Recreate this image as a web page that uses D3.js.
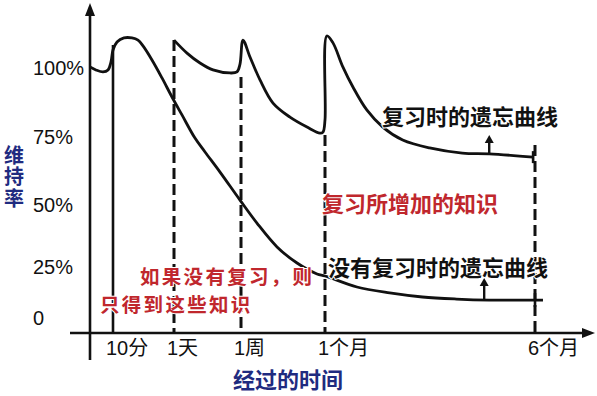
<!DOCTYPE html>
<html><head><meta charset="utf-8">
<script src="https://cdn.jsdelivr.net/npm/d3@7/dist/d3.min.js"></script>
<style>body{margin:0;background:#fff}svg{display:block;background:#fff}</style>
</head><body><svg id="c" width="597" height="396"></svg>
<script>
// ---- data ----
const timeLabels = ["10分", "1天", "1周", "1个月", "6个月"];
const timeIndex = [0, 1, 2, 3, 4];
const retentionTicks = [0, 25, 50, 75, 100];
const retentionLabels = ["0", "25%", "50%", "75%", "100%"];

// forgetting curve without review (time index, retention %)
const noReviewT = [-0.377, -0.279, -0.164, -0.082, -0.033, 0, 0.066, 0.18, 0.311, 0.41, 0.492, 0.639, 0.803, 0.967, 1.119, 1.313, 1.463, 1.687, 1.985, 2.19, 2.429, 2.667, 2.905, 3, 3.152, 3.308, 3.464, 3.626, 3.782, 4.038];
const noReviewV = [100.4, 99.3, 98.6, 99.3, 102.2, 106.5, 109.4, 110.9, 110.9, 110.1, 108.0, 102.9, 96.4, 89.5, 83.0, 74.6, 69.5, 62.1, 51.8, 42.7, 33.1, 26.6, 21.6, 20.6, 15.2, 12.3, 10.3, 9.3, 8.8, 8.8];

// forgetting curve with reviews
const reviewT = [1, 1.194, 1.388, 1.582, 1.836, 1.94, 1.985, 2.024, 2.107, 2.226, 2.381, 2.583, 2.786, 2.94, 2.976, 3, 3.009, 3.038, 3.085, 3.133, 3.199, 3.275, 3.37, 3.498, 3.654, 3.782, 3.991];
const reviewV = [110.1, 105.4, 101.8, 99.3, 98.2, 98.6, 101.4, 110.1, 104.0, 95.7, 87.3, 82.2, 78.6, 76.4, 76.8, 81.2, 111.6, 109.1, 100.4, 93.1, 84.8, 78.6, 73.9, 71.0, 69.1, 68.8, 67.6];

// top of each vertical guide line (retention %)
const guideTop = [108.3, 110.1, 96.7, 75.7, 72.1];

// ---- chart ----
const svg = d3.select("#c");
const x = d3.scaleLinear().domain(timeIndex).range([113, 174, 241, 325, 535]);
const y = d3.scaleLinear().domain(retentionTicks).range([318, 267, 205, 137, 68]);
const axisY = 333, axisX = 90;
const ink = "#111";
const red = "#c0272d";
const blue = "#1f2b80";
const latin = "'Liberation Sans', Arial, 'Noto Sans CJK SC', sans-serif";
const cjk = "'Noto Sans CJK SC', sans-serif";

// vertical guides
svg.selectAll("line.guide").data(timeIndex).join("line")
  .attr("x1", d => x(d)).attr("x2", d => x(d))
  .attr("y1", d => y(guideTop[d])).attr("y2", axisY)
  .attr("stroke", ink).attr("stroke-width", d => d === 0 ? 2.6 : 3)
  .attr("stroke-dasharray", d => d === 0 ? null : "11,5");

// axes
svg.append("line").attr("x1", 70).attr("x2", 585).attr("y1", axisY).attr("y2", axisY)
  .attr("stroke", ink).attr("stroke-width", 2.6);
svg.append("path").attr("d", `M595,${axisY} L582,${axisY - 5} L582,${axisY + 5} Z`).attr("fill", ink);
svg.append("line").attr("x1", axisX).attr("x2", axisX).attr("y1", 360).attr("y2", 14)
  .attr("stroke", ink).attr("stroke-width", 2.6);
svg.append("path").attr("d", `M${axisX},3 L${axisX - 5},16 L${axisX + 5},16 Z`).attr("fill", ink);

// curves
const line = d3.line().x(d => x(d[0])).y(d => y(d[1])).curve(d3.curveCatmullRom.alpha(0.5));
svg.append("path").datum(noReviewT.map((t, i) => [t, noReviewV[i]]))
  .attr("d", line).attr("fill", "none").attr("stroke", ink).attr("stroke-width", 2.8);
svg.append("path").datum(reviewT.map((t, i) => [t, reviewV[i]]))
  .attr("d", line).attr("fill", "none").attr("stroke", ink).attr("stroke-width", 2.8);

// end ticks
const endR = reviewT[reviewT.length - 1], endRV = reviewV[reviewV.length - 1];
svg.append("line").attr("x1", x(endR)).attr("x2", x(endR)).attr("y1", y(endRV) - 6).attr("y2", y(endRV) + 6)
  .attr("stroke", ink).attr("stroke-width", 2.6);
const endNV = noReviewV[noReviewV.length - 1];
svg.append("line").attr("x1", x(4)).attr("x2", x(4)).attr("y1", y(endNV) - 7).attr("y2", y(endNV) + 7)
  .attr("stroke", ink).attr("stroke-width", 2.6);

// small up arrows pointing to labels
const arrows = [[3.782, 68.8, 75.7], [3.758, 8.8, 19.6]];
arrows.forEach(([t, v0, v1]) => {
  const ax = x(t), y0 = y(v0), y1 = y(v1);
  svg.append("line").attr("x1", ax).attr("x2", ax).attr("y1", y0).attr("y2", y1 + 6)
    .attr("stroke", ink).attr("stroke-width", 2.4);
  svg.append("path").attr("d", `M${ax},${y1} L${ax - 4.5},${y1 + 8} L${ax + 4.5},${y1 + 8} Z`).attr("fill", ink);
});

// y tick labels
svg.selectAll("text.yt").data(retentionTicks).join("text")
  .attr("x", 33).attr("y", d => y(d)).attr("dy", "0.36em")
  .attr("font-family", latin).attr("font-size", 20).attr("fill", ink)
  .text((d, i) => retentionLabels[i]);

// x tick labels
svg.selectAll("text.xt").data(timeIndex).join("text")
  .attr("x", d => x(d) - 7).attr("y", 348).attr("dy", "0.36em")
  .attr("font-family", latin).attr("font-size", 20).attr("fill", ink)
  .text(d => timeLabels[d]);

// axis titles
svg.append("text").attr("x", 233).attr("y", 380).attr("dy", "0.36em")
  .attr("font-family", cjk).attr("font-size", 22).attr("font-weight", 700).attr("fill", blue)
  .text("经过的时间");
svg.append("text").attr("x", 14).attr("y", 145)
  .style("writing-mode", "vertical-rl")
  .attr("font-family", cjk).attr("font-size", 20).attr("font-weight", 700).attr("fill", blue)
  .attr("letter-spacing", 1.5)
  .text("维持率");

// annotations
const notes = [
  ["复习时的遗忘曲线", 382, 117, ink],
  ["复习所增加的知识", 322, 204, red],
  ["没有复习时的遗忘曲线", 328, 268, ink]
];
svg.selectAll("text.note").data(notes).join("text")
  .attr("x", d => d[1]).attr("y", d => d[2]).attr("dy", "0.36em")
  .attr("font-family", cjk).attr("font-size", 22).attr("font-weight", 700)
  .attr("fill", d => d[3])
  .attr("stroke", "#fff").attr("stroke-width", 2).attr("paint-order", "stroke")
  .text(d => d[0]);

// two-line red note
const redLines = [["如果没有复习，则", 140, 276.5], ["只得到这些知识", 100, 305]];
svg.selectAll("text.rednote").data(redLines).join("text")
  .attr("x", d => d[1]).attr("y", d => d[2]).attr("dy", "0.36em")
  .attr("font-family", cjk).attr("font-size", 19.5).attr("font-weight", 700).attr("fill", red)
  .attr("letter-spacing", 2.3)
  .attr("stroke", "#fff").attr("stroke-width", 2).attr("paint-order", "stroke")
  .text(d => d[0]);
</script></body></html>
